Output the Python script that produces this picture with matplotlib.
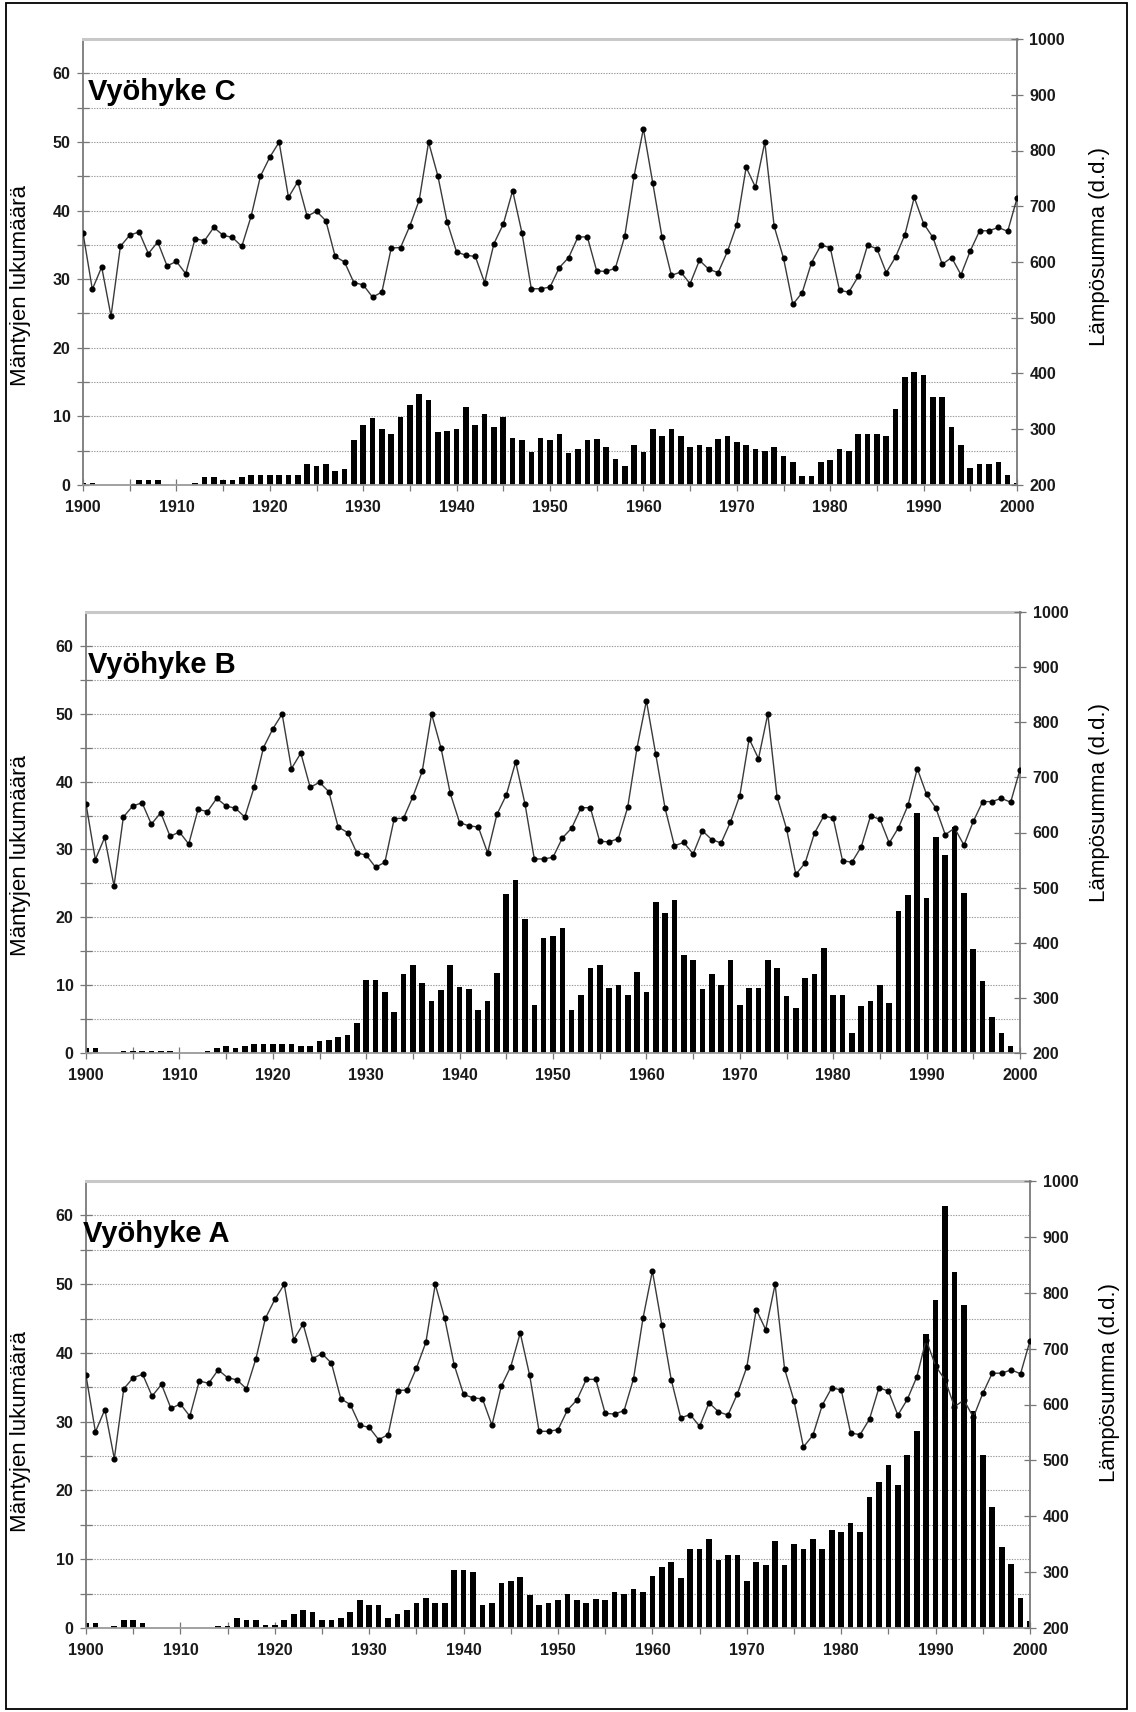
import matplotlib
matplotlib.use('Agg')
import matplotlib.pyplot as plt
from matplotlib.patches import Rectangle
from matplotlib.ticker import MultipleLocator, FixedLocator

plt.rcParams['font.family'] = ['Liberation Sans', 'DejaVu Sans']

# ---------------- data ----------------
years = list(range(1900, 2001))

# temperature sum (d.d.), same series in every panel
lampo = [652, 551, 591, 503, 628, 648, 654, 615, 636, 593,
         601, 579, 642, 638, 662, 648, 644, 628, 682, 754,
         788, 815, 716, 744, 682, 691, 674, 610, 600, 563,
         559, 537, 546, 625, 626, 665, 711, 815, 754, 671,
         618, 612, 610, 563, 633, 668, 728, 652, 552, 552,
         555, 590, 608, 645, 645, 584, 583, 589, 646, 754,
         839, 742, 644, 576, 582, 561, 603, 587, 581, 619,
         667, 770, 734, 815, 664, 607, 524, 545, 599, 630,
         626, 549, 546, 574, 630, 624, 581, 609, 649, 716,
         669, 644, 596, 608, 577, 620, 656, 656, 662, 655,
         714]

# number of pines per year
bars_c = [0.3, 0.3, 0, 0, 0, 0, 0.7, 0.7, 0.7, 0,
          0, 0, 0.3, 1.1, 1.1, 0.8, 0.8, 1.1, 1.5, 1.5,
          1.5, 1.5, 1.5, 1.5, 3.0, 2.7, 3.0, 2.1, 2.4, 6.5,
          8.8, 9.8, 8.2, 7.4, 9.9, 11.7, 13.3, 12.4, 7.7, 7.8,
          8.2, 11.3, 8.8, 10.4, 8.4, 9.9, 6.8, 6.6, 4.8, 6.8,
          6.6, 7.4, 4.6, 5.2, 6.5, 6.7, 5.5, 3.8, 2.8, 5.9,
          4.8, 8.1, 7.1, 8.1, 7.1, 5.5, 5.9, 5.6, 6.7, 7.1,
          6.2, 5.9, 5.2, 4.9, 5.5, 4.2, 3.4, 1.3, 1.3, 3.4,
          3.7, 5.2, 4.9, 7.4, 7.4, 7.4, 7.1, 11.1, 15.7, 16.4,
          16.0, 12.8, 12.8, 8.5, 5.9, 2.5, 3.1, 3.1, 3.4, 1.5,
          0.3]

bars_b = [0.7, 0.7, 0, 0, 0.3, 0.3, 0.3, 0.3, 0.3, 0.3,
          0, 0, 0, 0.3, 0.7, 1.0, 0.8, 1.1, 1.4, 1.4,
          1.4, 1.4, 1.4, 1.1, 1.1, 1.7, 1.9, 2.4, 2.7, 4.4,
          10.7, 10.7, 9.0, 6.0, 11.7, 13.0, 10.3, 7.6, 9.3, 13.0,
          9.7, 9.4, 6.3, 7.6, 11.8, 23.4, 25.5, 19.7, 7.1, 17.0,
          17.3, 18.4, 6.3, 8.6, 12.6, 13.0, 9.6, 10.0, 8.5, 11.9,
          9.0, 22.3, 20.7, 22.6, 14.4, 13.7, 9.4, 11.7, 10.0, 13.7,
          7.1, 9.6, 9.6, 13.7, 12.6, 8.4, 6.7, 11.0, 11.7, 15.5,
          8.6, 8.6, 3.0, 7.0, 7.6, 10.0, 7.3, 21.0, 23.3, 35.4,
          22.9, 31.8, 29.2, 33.3, 23.6, 15.4, 10.6, 5.3, 2.9, 1.1,
          0]

bars_a = [0.7, 0.7, 0, 0.35, 1.1, 1.1, 0.7, 0, 0, 0,
          0, 0, 0, 0, 0.35, 0.35, 1.45, 1.15, 1.15, 0.4,
          0.4, 1.15, 2.1, 2.6, 2.35, 1.15, 1.15, 1.45, 2.35, 4.1,
          3.35, 3.35, 1.45, 2.1, 2.6, 3.7, 4.35, 3.7, 3.7, 8.4,
          8.4, 8.1, 3.35, 3.7, 6.6, 6.85, 7.35, 4.75, 3.35, 3.7,
          4.0, 5.0, 4.0, 3.6, 4.2, 4.0, 5.3, 5.0, 5.6, 5.3,
          7.5, 8.8, 9.6, 7.2, 11.5, 11.5, 12.9, 9.9, 10.6, 10.6,
          6.9, 9.6, 9.2, 12.6, 9.2, 12.2, 11.5, 12.9, 11.5, 14.3,
          14.0, 15.3, 14.0, 19.0, 21.2, 23.7, 20.8, 25.1, 28.6, 42.7,
          47.7, 61.3, 51.7, 46.9, 31.5, 25.1, 17.6, 11.8, 9.3, 4.3,
          1.0]

zone_titles = ['Vyöhyke C', 'Vyöhyke B', 'Vyöhyke A']
left_label = 'Mäntyjen lukumäärä'
right_label = 'Lämpösumma (d.d.)'
x_ticks = [1900, 1910, 1920, 1930, 1940, 1950, 1960, 1970, 1980, 1990, 2000]
left_ticks = [0, 10, 20, 30, 40, 50, 60]
right_ticks = [200, 300, 400, 500, 600, 700, 800, 900, 1000]

# ---------------- layout (pixels) ----------------
W, H = 1136, 1712
fig = plt.figure(figsize=(W / 100, H / 100), dpi=100)

# (left, top, right, bottom) of each plot area, title x offset, ylabel centres
layout = [
    dict(box=(83, 39, 1017, 485), tdx=5, lab_y=286, rlab=(1099, 246)),
    dict(box=(86, 612, 1020, 1053), tdx=2, lab_y=856, rlab=(1099, 803)),
    dict(box=(86, 1181, 1030, 1628), tdx=-3, lab_y=1431, rlab=(1109, 1382)),
]
all_bars = [bars_c, bars_b, bars_a]

for title, bars, lay in zip(zone_titles, all_bars, layout):
    l, t, r, b = lay['box']
    ax = fig.add_axes([l / W, 1 - b / H, (r - l) / W, (b - t) / H])
    ax.bar(years, bars, width=0.6, color='black', zorder=2)
    ax.set_xlim(1900, 2000)
    ax.set_ylim(0, 65)
    ax.yaxis.set_major_locator(FixedLocator(left_ticks))
    ax.yaxis.set_minor_locator(FixedLocator([5, 15, 25, 35, 45, 55]))
    ax.xaxis.set_major_locator(FixedLocator(x_ticks))
    ax.xaxis.set_minor_locator(MultipleLocator(5))
    for yv in range(5, 65, 5):
        ax.axhline(yv, color='#9a9a9a', lw=0.8, ls=(0, (1.2, 1.2)), zorder=1)
    ax.tick_params(axis='both', which='both', direction='inout', length=8,
                   width=0.9, color='#777777')
    ax.tick_params(axis='y', which='major', pad=5, labelsize=11.5)
    ax.tick_params(axis='x', which='major', pad=7, labelsize=11.5)
    for lab in ax.get_xticklabels() + ax.get_yticklabels():
        lab.set_fontweight('bold')
        lab.set_color('#1a1a1a')
    ax.spines['left'].set_color('#7a7a7a')
    ax.spines['left'].set_linewidth(1.3)
    ax.spines['bottom'].set_color('#9a9a9a')
    ax.spines['bottom'].set_linewidth(1.3)
    ax.spines['top'].set_color('#c8c8c8')
    ax.spines['top'].set_linewidth(2.2)
    ax.spines['right'].set_visible(False)

    ax2 = ax.twinx()
    ax2.plot(years, lampo, color='#3a3a3a', lw=1.0, marker='o', markersize=3.4,
             markerfacecolor='black', markeredgecolor='black', zorder=3)
    ax2.set_ylim(200, 1000)
    ax2.yaxis.set_major_locator(FixedLocator(right_ticks))
    ax2.tick_params(axis='y', direction='inout', length=8, width=0.9,
                    color='#777777', pad=5, labelsize=11.5)
    for lab in ax2.get_yticklabels():
        lab.set_fontweight('bold')
        lab.set_color('#1a1a1a')
    for s in ('left', 'top', 'bottom'):
        ax2.spines[s].set_visible(False)
    ax2.spines['right'].set_color('#7a7a7a')
    ax2.spines['right'].set_linewidth(1.3)

    fig.text((l + lay['tdx']) / W, 1 - (t + 61) / H, title, fontsize=21,
             fontweight='bold', ha='left', va='baseline')
    fig.text(21 / W, 1 - lay['lab_y'] / H, left_label, rotation=90,
             fontsize=16, ha='center', va='center')
    fig.text(lay['rlab'][0] / W, 1 - lay['rlab'][1] / H, right_label,
             rotation=90, fontsize=16, ha='center', va='center')

# outer frame
fig.patches.append(Rectangle((6 / W, 3 / H), (1127 - 6) / W, (1709 - 3) / H,
                             transform=fig.transFigure, fill=False,
                             edgecolor='black', lw=1.3))

fig.savefig('out.png', dpi=100)
